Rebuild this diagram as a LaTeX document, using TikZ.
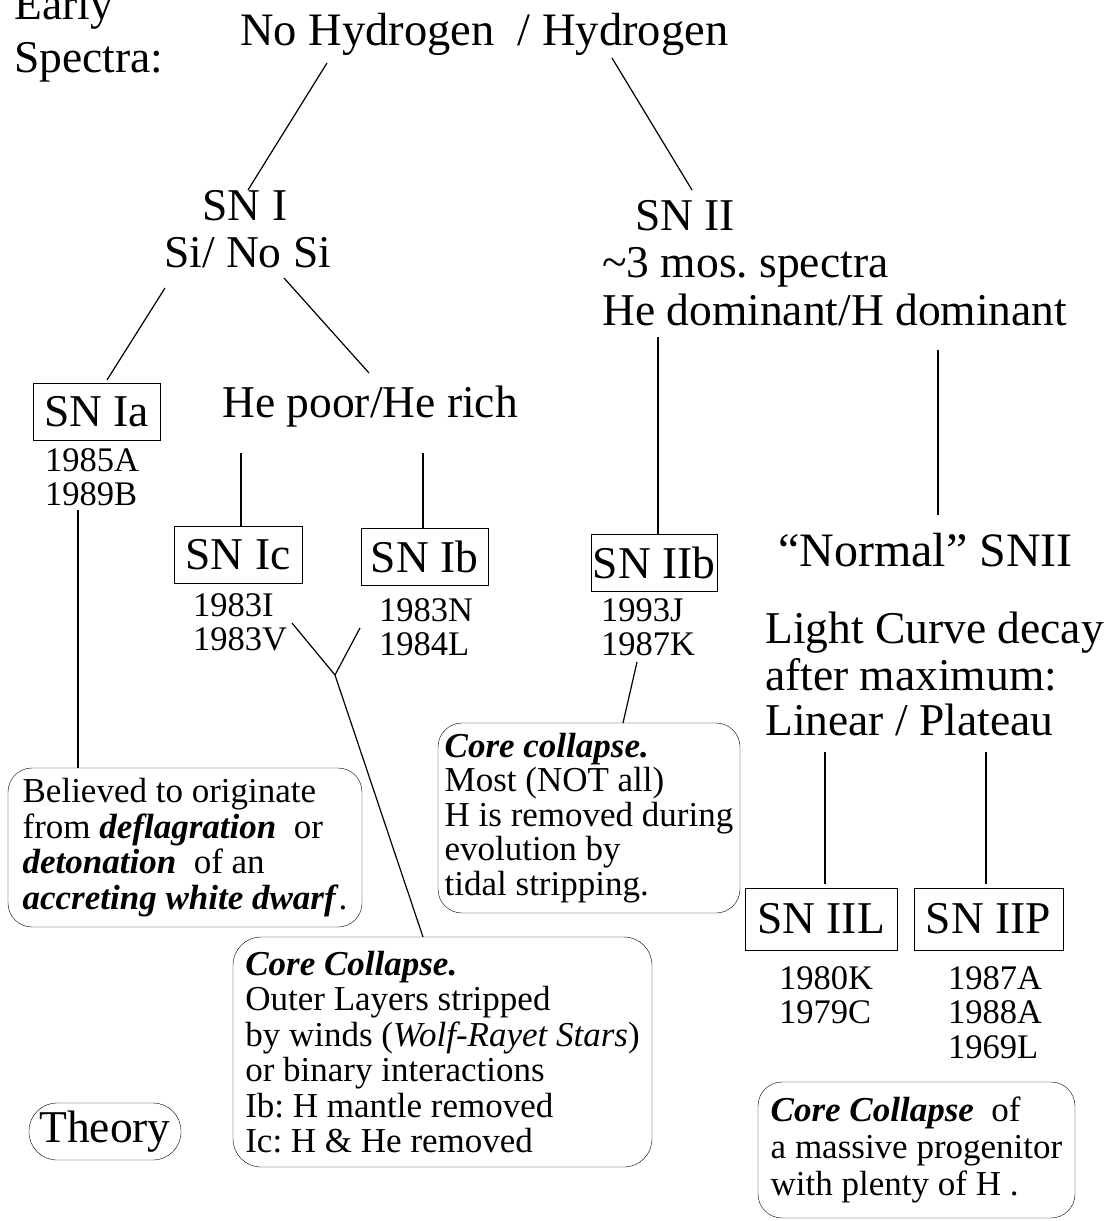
\documentclass[tikz,border=0pt]{standalone}
\usepackage{fontspec}
\setmainfont{Liberation Serif}
\usepackage{tikz}
\usetikzlibrary{calc}
\frenchspacing

\begin{document}
\begin{tikzpicture}[x=1pt,y=-1pt,
  big/.style={font=\fontsize{45.5}{47}\selectfont,inner sep=0pt},
  yrs/.style={font=\fontsize{34.5}{34.5}\selectfont,align=left,
    anchor=north west,inner sep=0pt},
  snbox/.style={draw,big,minimum height=57,inner xsep=2pt},
  note/.style={draw,rounded corners=24,align=left,inner sep=0pt,
    font=\fontsize{35}{35.5}\selectfont},
  link/.style={line width=1.2pt}
]
\useasboundingbox (0,0) rectangle (1113,1221);

% headings
\node[big,anchor=base west] (early) at (14,19) {Early};
\node[big,anchor=base west] (spectra) at (14,72) {Spectra:};
\node[big,anchor=base west,font=\fontsize{46.5}{48}\selectfont] (hyd) at (240,45) {No Hydrogen\ \ / Hydrogen};

% SN I branch
\node[big,anchor=base] (snI) at (245,220) {SN I};
\node[big,anchor=base] (siNoSi) at (247.5,267) {Si/ No Si};
\node[snbox,minimum width=127] (snIa) at (96.5,411.5) {SN Ia};
\node[yrs] (yrsIa) at (45,448) {1985A\\1989B};
\node[big,anchor=base west] (hePoor) at (222,417) {He poor/He rich};
\node[snbox,minimum width=128] (snIc) at (238,555) {SN Ic};
\node[yrs] (yrsIc) at (193,593) {1983I\\1983V};
\node[snbox,minimum width=127] (snIb) at (424.5,557) {SN Ib};
\node[yrs] (yrsIb) at (379,598) {1983N\\1984L};

% SN II branch
\node[big,anchor=base west] (snII) at (635,230) {SN II};
\node[big,anchor=base west] (mos) at (602,277) {\textasciitilde3 mos. spectra};
\node[big,anchor=base west] (heDom) at (602,325) {He dominant/H dominant};
\node[snbox,minimum width=126] (snIIb) at (654,563) {SN IIb};
\node[yrs] (yrsIIb) at (601,598) {1993J\\1987K};
\node[big,anchor=base west,font=\fontsize{48}{50}\selectfont] (normal) at (778,566) {``Normal'' SNII};
\node[big,anchor=base west] (light) at (765,643) {Light Curve decay};
\node[big,anchor=base west] (after) at (765,690) {after maximum:};
\node[big,anchor=base west] (linear) at (765,735) {Linear / Plateau};
\node[snbox,minimum width=152,minimum height=62] (snIIL) at (821,919) {SN IIL};
\node[snbox,minimum width=149,minimum height=62] (snIIP) at (988.5,919) {SN IIP};
\node[yrs] (yrsIIL) at (779,966) {1980K\\1979C};
\node[yrs] (yrsIIP) at (948,966) {1987A\\1988A\\1969L};

% theory notes
\node[note,minimum width=354,minimum height=159] (noteIa) at (185,847.5)
  {Believed to originate\\
   from \textbf{\textit{deflagration}}\ \ or\\
   \textbf{\textit{detonation}}\ \ of an\\
   \textbf{\textit{accreting white dwarf}}.};
\node[note,minimum width=419,minimum height=230,rounded corners=28] (noteIbc) at (442.5,1052)
  {\textbf{\textit{Core Collapse.}}\\
   Outer Layers stripped\\
   by winds (\textit{Wolf-Rayet Stars})\\
   or binary interactions\\
   Ib: H mantle removed\\
   Ic: H \& He removed};
\node[note,minimum width=302,minimum height=190,font=\fontsize{35}{34.5}\selectfont] (noteIIb) at (589,818)
  {\textbf{\textit{Core collapse.}}\\
   Most (NOT all)\\
   H is removed during\\
   evolution by\\
   tidal stripping.};
\node[note,minimum width=317,minimum height=136,font=\fontsize{35}{37}\selectfont] (noteIIP) at (916.5,1150)
  {\textbf{\textit{Core Collapse}}\ \ of\\
   a massive progenitor\\
   with plenty of H .};
\node[big,draw,rounded corners=28,minimum width=152,minimum height=57] (theory) at (105,1131.5) {Theory};

% free ends of the connectors
\coordinate (hydL) at (327,63);
\coordinate (hydR) at (612,58);
\coordinate (snItop) at (248,190);
\coordinate (snIItop) at (692,190);
\coordinate (siL) at (165,288);
\coordinate (siR) at (284,278);
\coordinate (snIaTop) at (107,380);
\coordinate (hePoorTop) at (369,373);
\coordinate (hePoorL) at (241,453);
\coordinate (hePoorR) at (423,453);
\coordinate (heDomL) at (658,337);
\coordinate (heDomR) at (938,350);
\coordinate (normalTop) at (938,515);
\coordinate (yrsIaEnd) at (78,510);
\coordinate (yrsIcEnd) at (292,623);
\coordinate (yrsIbEnd) at (360,628);
\coordinate (fork) at (335,675);
\coordinate (yrsIIbEnd) at (637,662);
\coordinate (linearL) at (825,752);
\coordinate (linearR) at (986,752);

\draw[link] (hydL) -- (snItop);
\draw[link] (hydR) -- (snIItop);
\draw[link] (siL) -- (snIaTop);
\draw[link] (siR) -- (hePoorTop);
\draw[link] (hePoorL) -- (hePoorL |- snIc.north);
\draw[link] (hePoorR) -- (hePoorR |- snIb.north);
\draw[link] (heDomL) -- (heDomL |- snIIb.north);
\draw[link] (heDomR) -- (normalTop);
\draw[link] (yrsIaEnd) -- (yrsIaEnd |- noteIa.north);
\draw[link] (yrsIcEnd) -- (fork);
\draw[link] (yrsIbEnd) -- (fork);
\draw[link] (fork) -- (423,937);
\draw[link] (yrsIIbEnd) -- (623,723);
\draw[link] (linearL) -- ++(0,132);
\draw[link] (linearR) -- ++(0,132);
\end{tikzpicture}
\end{document}
